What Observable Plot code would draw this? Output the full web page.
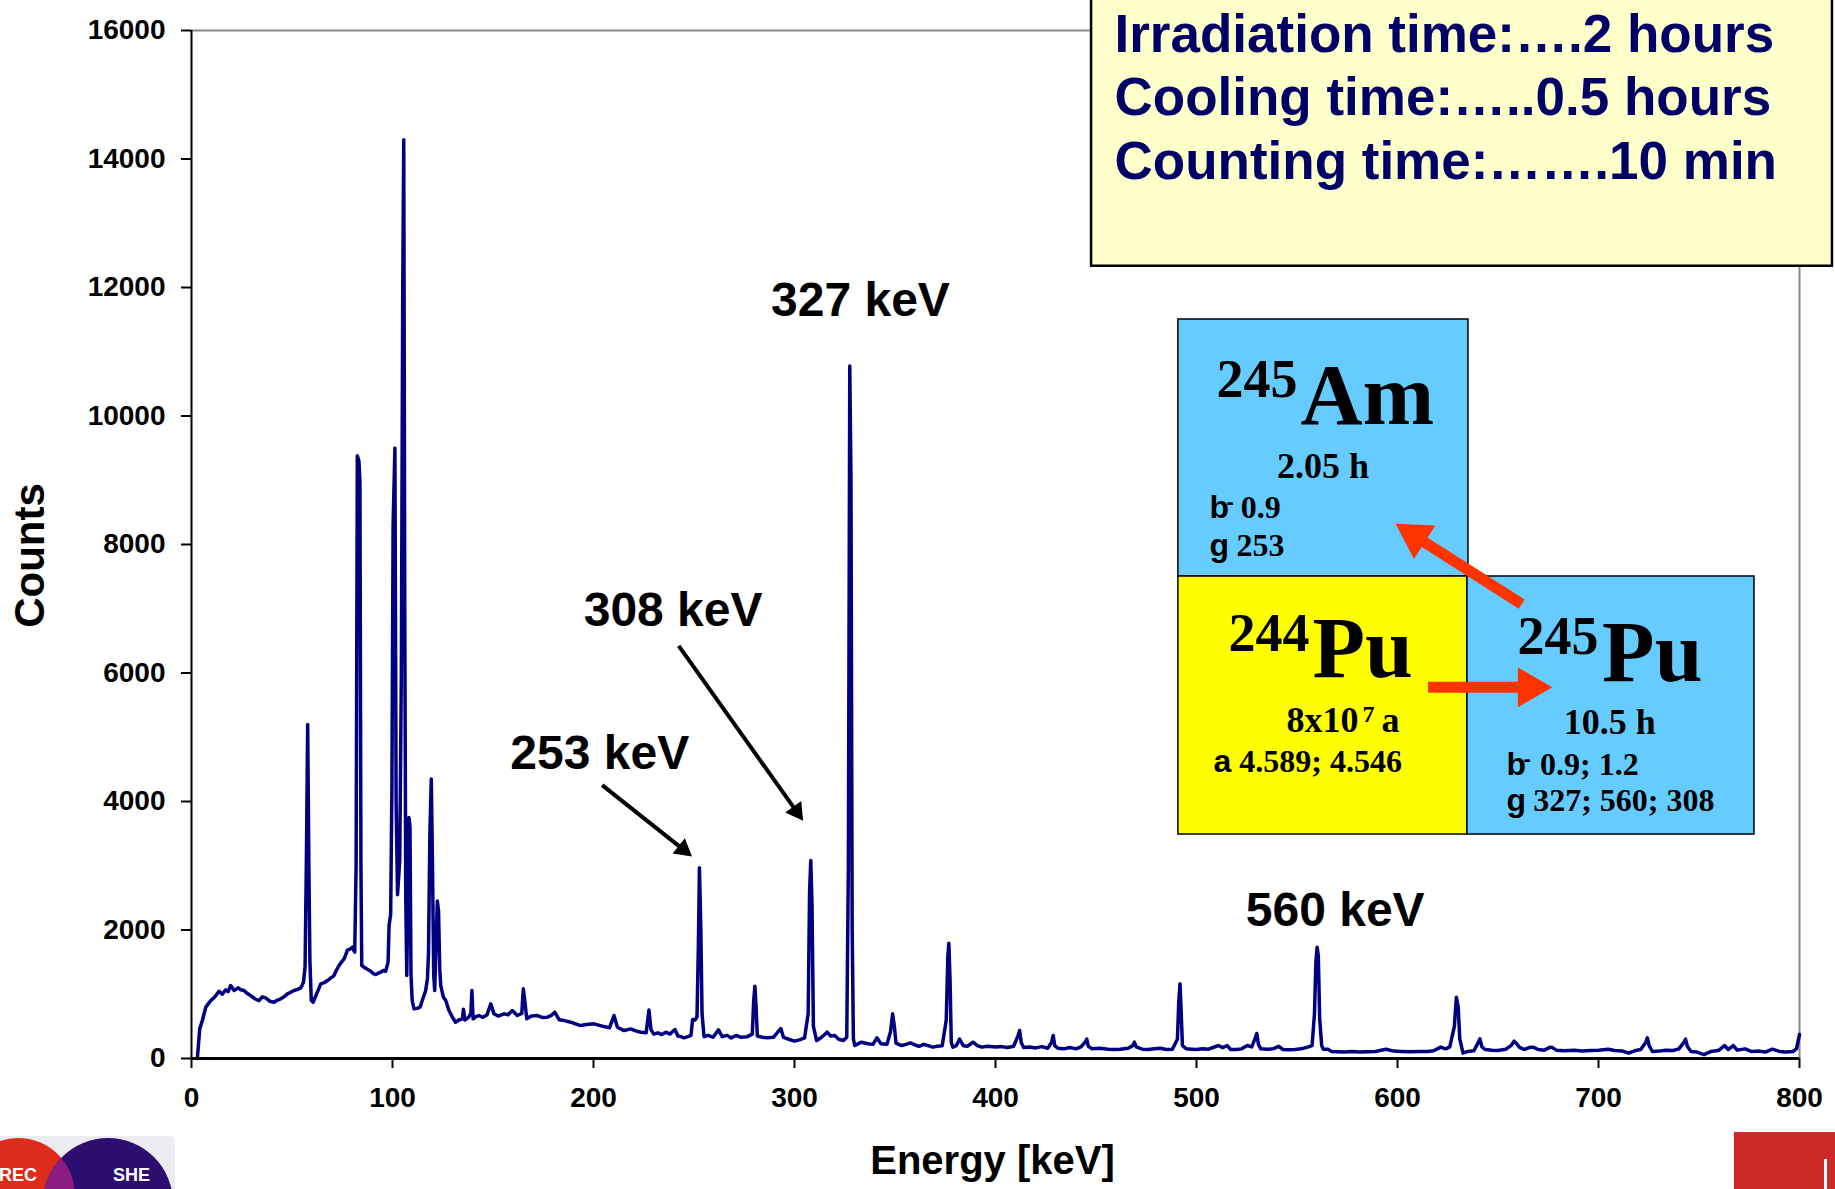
<!DOCTYPE html>
<html>
<head>
<meta charset="utf-8">
<script src="https://cdn.jsdelivr.net/npm/d3@7"></script>
<script src="https://cdn.jsdelivr.net/npm/@observablehq/plot@0.6"></script>
<style>
  html, body { margin: 0; padding: 0; background: #fff; overflow: hidden; }
  #wrap { position: relative; width: 1835px; height: 1189px; overflow: hidden; background: #fff; }
  #wrap svg.plot { position: absolute; left: 0; top: 0; }
  .deco { position: absolute; }
</style>
</head>
<body>
<div id="wrap"></div>
<script>
// ---------------- data ----------------
const energyKeV = [
  2.9, 4.1, 5.4, 7.1, 8.3, 9.6, 11.0, 12.1, 13.7, 15.3,
  17.0, 18.2, 19.5, 21.2, 23.2, 24.5, 26.1, 27.8, 29.4, 31.5,
  33.6, 35.2, 36.9, 39.0, 41.1, 42.8, 44.4, 46.0, 47.7, 49.3,
  51.0, 52.8, 54.4, 55.7, 56.5, 57.2, 57.8, 58.4, 58.9, 59.6,
  60.5, 61.5, 62.6, 63.5, 64.3, 66.0, 67.6, 69.2, 70.9, 72.2,
  73.4, 74.6, 75.9, 76.8, 77.6, 78.8, 80.0, 81.2, 81.9, 82.5,
  83.3, 83.8, 84.3, 84.7, 85.9, 87.5, 89.2, 90.5, 91.7, 93.0,
  94.1, 95.4, 96.6, 97.8, 98.3, 99.1, 99.7, 100.3, 101.2, 101.8,
  102.5, 103.6, 104.4, 105.1, 105.6, 106.1, 106.6, 107.1, 107.7, 108.2,
  108.7, 109.2, 109.8, 110.7, 112.4, 113.8, 114.8, 116.5, 117.4, 117.9,
  118.6, 119.3, 119.9, 120.5, 121.0, 121.6, 122.3, 122.9, 123.5, 124.0,
  125.3, 126.5, 128.1, 129.8, 131.4, 133.0, 134.8, 135.3, 136.0, 137.8,
  139.0, 139.5, 140.1, 141.5, 143.0, 145.0, 147.0, 148.9, 150.5, 152.5,
  155.5, 157.5, 159.6, 162.1, 164.3, 165.1, 165.8, 166.8, 169.0, 172.1,
  174.5, 177.1, 179.0, 180.7, 182.9, 185.5, 188.7, 191.0, 193.6, 196.5,
  200.3, 202.5, 205.2, 208.0, 210.2, 211.9, 213.5, 215.2, 218.5, 221.0,
  223.5, 226.2, 227.6, 228.6, 230.0, 232.0, 233.9, 236.0, 238.0, 240.5,
  242.0, 243.5, 245.0, 247.0, 248.5, 249.3, 250.5, 251.5, 252.2, 252.7,
  253.4, 254.0, 255.0, 257.0, 259.5, 262.2, 264.0, 266.5, 268.5, 271.0,
  273.5, 276.5, 279.0, 279.7, 280.3, 280.9, 281.5, 284.0, 286.5, 289.5,
  293.2, 294.5, 297.0, 300.0, 302.5, 305.0, 306.8, 307.5, 308.1, 308.7,
  309.4, 311.0, 313.5, 316.2, 318.0, 320.0, 322.0, 324.4, 326.0, 326.8,
  327.5, 328.1, 328.7, 329.3, 330.0, 333.3, 336.5, 339.0, 341.0, 343.0,
  346.0, 347.8, 348.8, 349.7, 350.5, 353.3, 355.5, 357.7, 360.0, 362.0,
  364.3, 366.5, 368.8, 371.0, 373.5, 375.5, 376.3, 376.8, 377.4, 378.0,
  378.8, 380.5, 382.1, 384.0, 386.0, 388.8, 391.0, 393.2, 396.0, 400.0,
  403.0, 406.0, 409.0, 411.3, 412.0, 412.8, 414.0, 417.0, 420.0, 423.0,
  426.0, 427.9, 428.7, 429.5, 431.0, 434.0, 437.0, 440.0, 442.5, 444.8,
  445.4, 446.2, 448.0, 452.0, 456.0, 459.0, 462.0, 466.0, 468.3, 469.1,
  470.0, 473.0, 476.0, 479.0, 482.0, 485.0, 488.0, 490.5, 491.2, 491.8,
  492.4, 493.0, 495.0, 497.6, 500.0, 503.0, 506.0, 508.5, 510.9, 513.0,
  515.3, 517.0, 520.0, 522.5, 525.3, 527.5, 529.5, 530.0, 530.8, 532.0,
  535.0, 538.0, 540.9, 543.0, 546.0, 549.0, 552.0, 555.3, 557.5, 558.7,
  559.4, 560.0, 560.6, 561.3, 562.3, 563.0, 565.4, 567.0, 570.0, 573.5,
  577.3, 581.0, 585.0, 589.0, 594.3, 598.0, 602.0, 606.0, 611.3, 615.0,
  618.0, 621.5, 624.0, 626.0, 628.3, 629.3, 630.2, 631.0, 632.6, 635.0,
  638.0, 640.2, 641.0, 642.0, 643.6, 647.0, 650.0, 653.8, 656.5, 658.0,
  659.3, 660.6, 663.0, 665.5, 667.4, 670.0, 673.0, 675.5, 676.7, 679.0,
  683.0, 687.8, 692.0, 696.0, 700.0, 704.8, 708.0, 712.0, 715.0, 718.0,
  721.0, 723.5, 724.3, 725.2, 726.8, 730.0, 733.5, 737.0, 740.0, 742.5,
  743.3, 744.2, 746.0, 749.0, 752.5, 756.0, 760.0, 762.7, 764.5, 767.0,
  769.0, 772.9, 776.0, 780.0, 783.0, 786.5, 790.0, 793.0, 796.7, 798.5,
  799.5, 800.0
];
const counts = [
  0, 461, 591, 798, 850, 902, 940, 980, 1047, 1000,
  1068, 1040, 1136, 1058, 1099, 1070, 1058, 1010, 980, 930,
  902, 960, 943, 890, 876, 910, 928, 960, 1006, 1030,
  1058, 1075, 1099, 1187, 1421, 3200, 5200, 3000, 1525, 902,
  876, 950, 1032, 1100, 1162, 1180, 1213, 1250, 1291, 1380,
  1447, 1500, 1551, 1620, 1691, 1700, 1732, 1654, 3000, 9380,
  9300, 8970, 3000, 1447, 1421, 1390, 1358, 1320, 1306, 1330,
  1343, 1370, 1358, 1499, 2069, 2250, 4200, 8300, 9500, 4000,
  2550, 3080, 6000, 12000, 14300, 7000, 2500, 1291, 2600, 3750,
  3600, 1300, 902, 773, 780, 804, 902, 1058, 1250, 1628,
  3500, 4350, 3000, 1300, 1058, 1700, 2450, 2300, 1400, 1136,
  955, 902, 747, 643, 565, 600, 617, 768, 600, 640,
  700, 1058, 617, 650, 669, 640, 680, 850, 695, 660,
  695, 680, 747, 669, 700, 1084, 900, 617, 660, 669,
  640, 643, 670, 721, 604, 590, 565, 540, 513, 530,
  539, 520, 497, 480, 669, 487, 460, 435, 461, 430,
  409, 400, 754, 450, 380, 400, 373, 410, 380, 451,
  350, 340, 322, 340, 360, 607, 600, 650, 1800, 2970,
  2000, 700, 340, 360, 330, 446, 340, 360, 320, 358,
  330, 340, 380, 900, 1126, 800, 350, 330, 322, 330,
  467, 330, 300, 270, 290, 320, 700, 2600, 3080, 2400,
  500, 280, 330, 410, 350, 358, 300, 280, 330, 3000,
  10780, 9000, 2000, 300, 202, 254, 230, 220, 322, 230,
  220, 420, 695, 500, 240, 202, 220, 243, 210, 190,
  220, 200, 177, 190, 200, 600, 1600, 1794, 1200, 250,
  177, 200, 301, 200, 190, 254, 200, 177, 190, 180,
  185, 170, 190, 360, 436, 250, 170, 180, 165, 185,
  160, 250, 358, 200, 160, 150, 170, 150, 180, 260,
  301, 190, 150, 160, 145, 140, 145, 160, 200, 254,
  180, 145, 140, 150, 160, 140, 145, 300, 900, 1162,
  700, 200, 150, 145, 140, 150, 145, 175, 202, 170,
  200, 140, 140, 150, 202, 180, 340, 389, 220, 150,
  145, 150, 190, 140, 135, 140, 150, 177, 200, 700,
  1500, 1732, 1600, 600, 200, 145, 145, 110, 105, 100,
  109, 100, 105, 110, 145, 115, 110, 105, 109, 110,
  120, 177, 150, 180, 500, 954, 800, 300, 83, 110,
  120, 250, 306, 180, 140, 130, 125, 145, 200, 270,
  230, 177, 140, 170, 177, 140, 130, 170, 177, 130,
  120, 130, 115, 125, 130, 145, 125, 115, 83, 120,
  140, 250, 322, 200, 109, 115, 130, 125, 150, 250,
  301, 190, 109, 100, 60, 110, 130, 202, 140, 202,
  130, 150, 110, 115, 100, 145, 110, 100, 109, 150,
  300, 373
];
const xTicks = [0, 100, 200, 300, 400, 500, 600, 700, 800];
const yTicks = [0, 2000, 4000, 6000, 8000, 10000, 12000, 14000, 16000];

const peakLabels = ["327 keV", "308 keV", "253 keV", "560 keV"];
const peakLabelEnergy = [332.8, 239.6, 203.1, 569.0];
const peakLabelCounts = [11564, 6739, 4504, 2070];

const infoLines = ["Irradiation time:\u2026.2 hours", "Cooling time:\u2026..0.5 hours", "Counting time:\u2026\u2026.10 min"];

// ---------------- annotation layout (in data coordinates) ----------------
const infoLineCounts = [15662, 14685, 13696];
const infoBox = [{x1: 447.8, x2: 816.4, y1: 12331, y2: 16545}];
const nuclideBoxes = [
  {x1: 491.0, x2: 635.3, y1: 7502, y2: 11502, fill: "#66CCFF"},
  {x1: 491.0, x2: 634.8, y1: 3486, y2: 7502, fill: "#FFFF00"},
  {x1: 634.8, x2: 777.6, y1: 3486, y2: 7502, fill: "#66CCFF"}
];
const insetText = [
  // 245Am
  {t: "245", x: 550.2, y: 10303, size: 54, fam: "serif", anchor: "end"},
  {t: "Am", x: 551.7, y: 9883, size: 86, fam: "serif", anchor: "start"},
  {t: "2.05 h", x: 562.9, y: 9035, size: 36, fam: "serif", anchor: "middle"},
  {t: "b", x: 506.5, y: 8405, size: 32, fam: "sans", anchor: "start"},
  {t: "-", x: 514.9, y: 8554, size: 22, fam: "sans", anchor: "start"},
  {t: "0.9", x: 522.0, y: 8405, size: 32, fam: "serif", anchor: "start"},
  {t: "g", x: 506.5, y: 7821, size: 32, fam: "sans", anchor: "start"},
  {t: "253", x: 519.9, y: 7821, size: 32, fam: "serif", anchor: "start"},
  // 244Pu
  {t: "244", x: 556.2, y: 6350, size: 54, fam: "serif", anchor: "end"},
  {t: "Pu", x: 557.7, y: 5930, size: 86, fam: "serif", anchor: "start"},
  {t: "8x10", x: 544.8, y: 5074, size: 36, fam: "serif", anchor: "start"},
  {t: "7", x: 582.6, y: 5239, size: 24, fam: "serif", anchor: "start"},
  {t: "a", x: 592.0, y: 5074, size: 36, fam: "serif", anchor: "start"},
  {t: "a", x: 508.5, y: 4461, size: 32, fam: "sans", anchor: "start"},
  {t: "4.589; 4.546", x: 521.3, y: 4461, size: 32, fam: "serif", anchor: "start"},
  // 245Pu
  {t: "245", x: 700.0, y: 6294, size: 54, fam: "serif", anchor: "end"},
  {t: "Pu", x: 701.8, y: 5877, size: 86, fam: "serif", anchor: "start"},
  {t: "10.5 h", x: 705.6, y: 5043, size: 36, fam: "serif", anchor: "middle"},
  {t: "b", x: 654.2, y: 4405, size: 32, fam: "sans", anchor: "start"},
  {t: "-", x: 662.7, y: 4555, size: 22, fam: "sans", anchor: "start"},
  {t: "0.9; 1.2", x: 670.9, y: 4405, size: 32, fam: "serif", anchor: "start"},
  {t: "g", x: 654.2, y: 3849, size: 32, fam: "sans", anchor: "start"},
  {t: "327; 560; 308", x: 667.5, y: 3849, size: 32, fam: "serif", anchor: "start"}
];
const pointerArrows = [
  {x1: 242.4, y1: 6423, x2: 301.0, y2: 3846, angle: 144.6},
  {x1: 204.3, y1: 4255, x2: 244.6, y2: 3254, angle: 128.5}
];
const decayArrows = [
  {x1: 661.8, y1: 7072, x2: 608.7, y2: 8131, angle: -57.5},
  {x1: 615.2, y1: 5777, x2: 665.6, y2: 5777, angle: 90}
];

// ---------------- build ----------------
const spectrum = energyKeV.map((e, i) => ({e, c: counts[i]}));
const peaks = peakLabels.map((t, i) => ({t, x: peakLabelEnergy[i], y: peakLabelCounts[i]}));
const info = infoLines.map((t, i) => ({t, y: infoLineCounts[i]}));

const SANS = "'Liberation Sans', Arial, Helvetica, sans-serif";
const SERIF = "'Liberation Serif', 'Times New Roman', serif";
const insetMarks = [];
for (const fam of ["serif", "sans"]) {
  for (const anchor of ["start", "middle", "end"]) {
    const sub = insetText.filter(d => d.fam === fam && d.anchor === anchor);
    if (!sub.length) continue;
    insetMarks.push(Plot.text(sub, {
      x: "x", y: "y", text: "t", fontSize: "size",
      fontFamily: fam === "serif" ? SERIF : SANS, fontWeight: "bold",
      textAnchor: anchor, lineAnchor: "bottom", fill: "black"
    }));
  }
}

const chart = Plot.plot({
  width: 1835,
  height: 1189,
  marginLeft: 191,
  marginRight: 36,
  marginTop: 30,
  marginBottom: 131,
  x: {domain: [0, 800]},
  y: {domain: [0, 16000]},
  style: {fontFamily: SANS, fontWeight: "bold", fontSize: "28px", color: "black", background: "white"},
  marks: [
    Plot.ruleY([16000], {stroke: "#888", strokeWidth: 2}),
    Plot.ruleX([800], {stroke: "#888", strokeWidth: 2}),
    Plot.line(spectrum, {x: "e", y: "c", stroke: "#000080", strokeWidth: 3.5, strokeLinejoin: "round", curve: "linear"}),
    Plot.axisY({ticks: yTicks, tickSize: 10, tickPadding: 16, tickFormat: d3.format("d"), label: null,
      fontSize: 28, fontWeight: "bold", strokeWidth: 2}),
    Plot.axisX({ticks: xTicks, tickSize: 10, tickPadding: 19, tickFormat: d3.format("d"), label: null,
      fontSize: 28, fontWeight: "bold", strokeWidth: 2}),
    Plot.ruleX([0], {stroke: "black", strokeWidth: 2}),
    Plot.ruleY([0], {stroke: "black", strokeWidth: 3}),
    // axis titles
    Plot.text(["Counts"], {text: d => d, frameAnchor: "left", rotate: -90, dx: -148, dy: 11,
      textAnchor: "middle", lineAnchor: "bottom", fontSize: 42, fontWeight: "bold", fill: "black"}),
    Plot.text(["Energy [keV]"], {text: d => d, frameAnchor: "bottom", dx: -3, dy: 115,
      textAnchor: "middle", lineAnchor: "bottom", fontSize: 40, fontWeight: "bold", fill: "black"}),
    // peak labels and pointer arrows
    Plot.text(peaks, {x: "x", y: "y", text: "t", fontSize: 48, fontWeight: "bold",
      textAnchor: "middle", lineAnchor: "bottom", fill: "black"}),
    Plot.link(pointerArrows, {x1: "x1", y1: "y1", x2: "x2", y2: "y2", stroke: "black", strokeWidth: 4}),
    Plot.dot(pointerArrows, {x: "x2", y: "y2", symbol: "triangle", r: 7.3, fill: "black", stroke: "none", rotate: "angle"}),
    // info box
    Plot.rect(infoBox, {x1: "x1", x2: "x2", y1: "y1", y2: "y2", fill: "#FFFFCC", stroke: "black", strokeWidth: 2.5}),
    Plot.text(info, {x: 459.2, y: "y", text: "t", fontSize: 53, fontWeight: "bold", fill: "#000066",
      textAnchor: "start", lineAnchor: "bottom"}),
    // nuclide chart inset
    Plot.rect(nuclideBoxes, {x1: "x1", x2: "x2", y1: "y1", y2: "y2", fill: "fill", stroke: "black", strokeWidth: 1.5}),
    ...insetMarks,
    Plot.link(decayArrows, {x1: "x1", y1: "y1", x2: "x2", y2: "y2", stroke: "#FF3300", strokeWidth: 11}),
    Plot.dot(decayArrows, {x: "x2", y: "y2", symbol: "triangle", r: 14.8, fill: "#FF3300", stroke: "none", rotate: "angle"})
  ]
});
chart.classList.add("plot");
const wrap = document.getElementById("wrap");
wrap.appendChild(chart);

// slide decorations (logos at the bottom corners)
const deco = document.createElement("div");
deco.innerHTML = `
<svg class="deco" style="left:0;top:1130px" width="180" height="59" viewBox="0 1130 180 59">
  <defs><clipPath id="redc"><circle cx="18" cy="1195" r="57"/></clipPath></defs>
  <rect x="-6" y="1136" width="181" height="70" rx="6" fill="#ECECF0"/>
  <circle cx="18" cy="1195" r="57" fill="#DD2C1C"/>
  <circle cx="108" cy="1203" r="65" fill="#2C0E6E"/>
  <circle cx="108" cy="1203" r="65" fill="#8A1C82" clip-path="url(#redc)"/>
  <text x="-1" y="1181" fill="white" font-family="${SANS}" font-weight="bold" font-size="18">REC</text>
  <text x="113" y="1181" fill="white" font-family="${SANS}" font-weight="bold" font-size="18">SHE</text>
</svg>
<svg class="deco" style="left:1734px;top:1132px" width="101" height="57">
  <rect x="0" y="0" width="101" height="57" fill="#CC2828"/>
  <rect x="90" y="27" width="3" height="30" fill="white"/>
</svg>`;
while (deco.firstElementChild) wrap.appendChild(deco.firstElementChild);
</script>
</body>
</html>
